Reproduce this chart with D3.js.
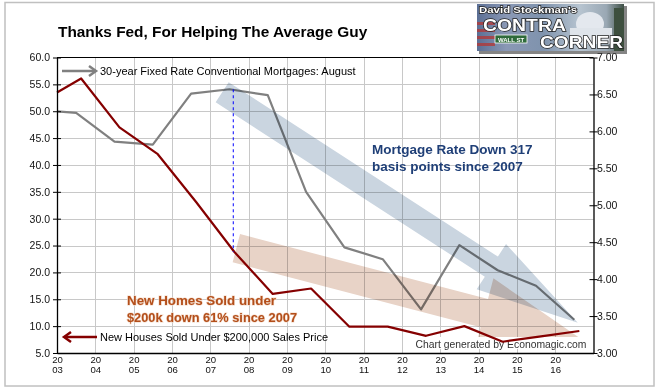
<!DOCTYPE html>
<html><head><meta charset="utf-8">
<script src="https://cdn.jsdelivr.net/npm/d3@7"></script>
<style>
body{margin:0;background:#fff}
svg{display:block}
text{font-family:"Liberation Sans",Arial,Helvetica,sans-serif}
</style>
</head><body>
<svg id="chart" width="658" height="392"></svg>
<script>
// ---------- data ----------
const years = [2003,2004,2005,2006,2007,2008,2009,2010,2011,2012,2013,2014,2015,2016];
const leftTicks = [5,10,15,20,25,30,35,40,45,50,55,60];
const rightTicks = [3.0,3.5,4.0,4.5,5.0,5.5,6.0,6.5,7.0];
const mortgageDates = [2003.0,2003.5,2004.5,2005.5,2006.5,2007.5,2008.5,2009.5,2010.5,2011.5,2012.5,2013.5,2014.5,2015.5,2016.5];
const mortgageRates = [6.27,6.25,5.86,5.82,6.51,6.57,6.49,5.18,4.43,4.27,3.59,4.46,4.12,3.91,3.45];
const homesDates = [2003.0,2003.63,2004.63,2005.63,2006.63,2007.63,2008.63,2009.63,2010.63,2011.63,2012.63,2013.63,2014.63,2015.63,2016.63];
const homesSold = [53.5,56.1,47.0,42.0,33.1,23.8,16.0,17.0,9.9,9.9,8.2,10.0,7.1,8.1,9.1];

const title = "Thanks Fed, For Helping The Average Guy";
const mortgageLegend = "30-year Fixed Rate Conventional Mortgages: August";
const homesLegend = "New Houses Sold Under $200,000 Sales Price";
const mortgageNote = ["Mortgage Rate Down 317", "basis points since 2007"];
const homesNote = ["New Homes Sold under", "$200k down 61% since 2007"];
const credit = "Chart generated by Economagic.com";

// ---------- layout ----------
const svg = d3.select("#chart");
const x = d3.scaleLinear().domain([2003, 2017]).range([57, 593.5]);
const yL = d3.scaleLinear().domain([5, 60]).range([353, 57.5]);
const yR = d3.scaleLinear().domain([3, 7]).range([353, 57.5]);

// outer frame
svg.append("rect").attr("x", 5).attr("y", 2.5).attr("width", 649).attr("height", 383.5)
  .attr("fill", "none").attr("stroke", "#c0c0c0").attr("stroke-width", 1.5);

// title
svg.append("text").attr("x", 58).attr("y", 36.5).attr("font-size", 15.4).attr("font-weight", "bold")
  .attr("fill", "#000").text(title);

// grid
const grid = svg.append("g").attr("stroke", "#c8c8c8").attr("stroke-width", 1);
grid.selectAll("line.h").data(leftTicks.filter(d => d > 5 && d < 60)).join("line")
  .attr("x1", x(2003)).attr("x2", x(2017)).attr("y1", d => Math.round(yL(d)) + 0.5).attr("y2", d => Math.round(yL(d)) + 0.5);
grid.selectAll("line.v").data(years.slice(1)).join("line")
  .attr("y1", yL(60)).attr("y2", yL(5)).attr("x1", d => Math.round(x(d)) + 0.5).attr("x2", d => Math.round(x(d)) + 0.5);

// top border
svg.append("line").attr("x1", x(2003)).attr("x2", x(2017)).attr("y1", yL(60)).attr("y2", yL(60))
  .attr("stroke", "#000").attr("stroke-width", 1);

// mortgage line (gray)
const lineM = d3.line().x((d, i) => x(mortgageDates[i])).y(d => yR(d));
svg.append("path").datum(mortgageRates).attr("d", lineM)
  .attr("fill", "none").attr("stroke", "#808080").attr("stroke-width", 2.2).attr("stroke-linejoin", "round");

// arrow helper (pixel geometry from data endpoints)
function arrowPath(p0, p1, halfShaft, halfHead, headLen) {
  const dx = p1[0] - p0[0], dy = p1[1] - p0[1];
  const len = Math.hypot(dx, dy);
  const ux = dx / len, uy = dy / len, px = -uy, py = ux;
  const bx = p1[0] - ux * headLen, by = p1[1] - uy * headLen;
  const pts = [
    [p0[0] - px * halfShaft, p0[1] - py * halfShaft],
    [bx - px * halfShaft, by - py * halfShaft],
    [bx - px * halfHead, by - py * halfHead],
    p1,
    [bx + px * halfHead, by + py * halfHead],
    [bx + px * halfShaft, by + py * halfShaft],
    [p0[0] + px * halfShaft, p0[1] + py * halfShaft]
  ];
  return "M" + pts.map(p => p.join(",")).join("L") + "Z";
}

// salmon arrow (homes)
svg.append("path")
  .attr("d", arrowPath([x(2007.68), yL(24.5)], [x(2016.65), yR(3.2)], 14.6, 36, 99))
  .attr("fill", "#e8d3c7").style("mix-blend-mode", "multiply");

// credit label with white box
const cred = svg.append("g");
cred.append("rect").attr("x", 413).attr("y", 337).attr("width", 177).attr("height", 12).attr("fill", "#fff");
cred.append("text").attr("x", 415.5).attr("y", 347.5).attr("font-size", 11.5).attr("fill", "#333")
  .attr("textLength", 171).attr("lengthAdjust", "spacingAndGlyphs").text(credit);

// homes line (dark red)
const lineH = d3.line().x((d, i) => x(homesDates[i])).y(d => yL(d));
svg.append("path").datum(homesSold).attr("d", lineH)
  .attr("fill", "none").attr("stroke", "#850000").attr("stroke-width", 2.2).attr("stroke-linejoin", "round");

// blue arrow (mortgage)
svg.append("path")
  .attr("d", arrowPath([x(2007.31), yR(6.53)], [x(2016.59), yR(3.41)], 12, 27, 103))
  .attr("fill", "#cad5e0").style("mix-blend-mode", "multiply");

// dashed vertical marker 2007
svg.append("line").attr("x1", x(2007.6)).attr("x2", x(2007.6))
  .attr("y1", yR(mortgageRates[5])).attr("y2", yL(homesSold[5]))
  .attr("stroke", "#0000ff").attr("stroke-width", 1).attr("stroke-dasharray", "3,3");

// annotations
const noteM = svg.append("text").attr("font-size", 13.5).attr("font-weight", "bold").attr("fill", "#1f3f77");
mortgageNote.forEach((t, i) => noteM.append("tspan").attr("x", 372).attr("y", 154 + i * 16.7).text(t));
const noteH = svg.append("text").attr("font-size", 13.4).attr("font-weight", "bold").attr("fill", "#b34e1a")
  .attr("stroke", "#f3d9c8").attr("stroke-width", 1.2).attr("paint-order", "stroke");
const noteLens = [149, 170];
homesNote.forEach((t, i) => noteH.append("tspan").attr("x", 127).attr("y", 305 + i * 16.7)
  .attr("textLength", noteLens[i]).attr("lengthAdjust", "spacingAndGlyphs").text(t));

// legends
const lg = svg.append("g");
lg.append("line").attr("x1", 62).attr("x2", 95).attr("y1", 71).attr("y2", 71).attr("stroke", "#808080").attr("stroke-width", 2.5);
lg.append("path").attr("d", "M89,66L96,71L89,76").attr("fill", "none").attr("stroke", "#808080").attr("stroke-width", 2.5);
lg.append("text").attr("x", 100).attr("y", 75).attr("font-size", 11).attr("fill", "#000").text(mortgageLegend);
lg.append("line").attr("x1", 65).attr("x2", 97).attr("y1", 337).attr("y2", 337).attr("stroke", "#850000").attr("stroke-width", 2.5);
lg.append("path").attr("d", "M71,332L64,337L71,342").attr("fill", "none").attr("stroke", "#850000").attr("stroke-width", 2.5);
lg.append("text").attr("x", 100).attr("y", 341).attr("font-size", 11).attr("fill", "#000").text(homesLegend);

// axes
const axL = svg.append("g").attr("transform", `translate(${x(2003)},0)`)
  .call(d3.axisLeft(yL).tickValues(leftTicks).tickFormat(d3.format(".1f")).tickSize(4).tickPadding(3).tickSizeOuter(0));
axL.selectAll(".tick line").attr("x2", 4).attr("x1", -4);
const axR = svg.append("g").attr("transform", `translate(${x(2017)},0)`)
  .call(d3.axisRight(yR).tickValues(rightTicks).tickFormat(d3.format(".2f")).tickSize(4).tickPadding(0).tickSizeOuter(0));
axR.selectAll(".tick line").attr("x1", -4).attr("x2", 4);
axR.selectAll(".tick text").attr("x", 3.5);
const axB = svg.append("g").attr("transform", `translate(0,${yL(5)})`)
  .call(d3.axisBottom(x).tickValues(years).tickFormat("").tickSize(0).tickSizeOuter(0));
axB.selectAll(".tick").each(function (d) {
  const t = d3.select(this);
  t.append("text").attr("x", 0).attr("y", 9.6).attr("font-size", 9.6).attr("text-anchor", "middle").text("20");
  t.append("text").attr("x", 0).attr("y", 20.4).attr("font-size", 9.6).attr("text-anchor", "middle").text(String(d).slice(2));
});
[axL, axR, axB].forEach(a => {
  a.select(".domain").attr("stroke", "#000").attr("stroke-width", 1.3);
  a.selectAll(".tick line").attr("stroke", "#000");
  a.selectAll("text").attr("font-family", "'Liberation Sans',Arial,sans-serif").attr("fill", "#111");
});
axL.selectAll(".tick text").attr("font-size", 10.5);
axR.selectAll(".tick text").attr("font-size", 10.5);

// ---------- logo ----------
const logo = svg.append("g");
const defs = svg.append("defs");
const gr = defs.append("linearGradient").attr("id", "lg1").attr("x1", 0).attr("x2", 1).attr("y1", 0).attr("y2", 0);
[[0, "#5b6f95"], [0.2, "#8a98b5"], [0.45, "#7f93ad"], [0.7, "#b7c4d0"], [0.88, "#9aa8b4"], [1, "#3e4f45"]]
  .forEach(s => gr.append("stop").attr("offset", s[0]).attr("stop-color", s[1]));
logo.append("rect").attr("x", 479).attr("y", 6).attr("width", 148).attr("height", 48).attr("fill", "#333").attr("opacity", 0.6);
logo.append("rect").attr("x", 477).attr("y", 4).attr("width", 147).attr("height", 47).attr("fill", "url(#lg1)");
[0, 1, 2, 3].forEach(i => logo.append("rect").attr("x", 477).attr("y", 22 + i * 7).attr("width", 18).attr("height", 3).attr("fill", "#b03a3a").attr("opacity", 0.8));
logo.append("ellipse").attr("cx", 590).attr("cy", 24).attr("rx", 14).attr("ry", 12).attr("fill", "#e4e8ee");
logo.append("rect").attr("x", 570).attr("y", 28).attr("width", 42).attr("height", 16).attr("fill", "#dfe4ea");
logo.append("rect").attr("x", 614).attr("y", 8).attr("width", 10).attr("height", 43).attr("fill", "#3d4f3e");
logo.append("rect").attr("x", 495).attr("y", 35).attr("width", 32).attr("height", 8).attr("fill", "#2f6b3b").attr("stroke", "#fff").attr("stroke-width", 0.8);
logo.append("text").attr("x", 511).attr("y", 41.5).attr("text-anchor", "middle").attr("font-size", 6).attr("font-weight", "bold").attr("fill", "#fff").text("WALL ST");
const lt = (t, xx, yy, fs, len) => logo.append("text").attr("x", xx).attr("y", yy).attr("font-size", fs).attr("font-weight", "bold")
  .attr("fill", "#fff").attr("stroke", "#222").attr("stroke-width", 1.4).attr("paint-order", "stroke")
  .attr("textLength", len).attr("lengthAdjust", "spacingAndGlyphs").text(t);
lt("David Stockman's", 479, 12.5, 9.5, 98);
lt("CONTRA", 483, 31, 16.5, 83);
lt("CORNER", 540, 48, 16.5, 83);
</script>
</body></html>
